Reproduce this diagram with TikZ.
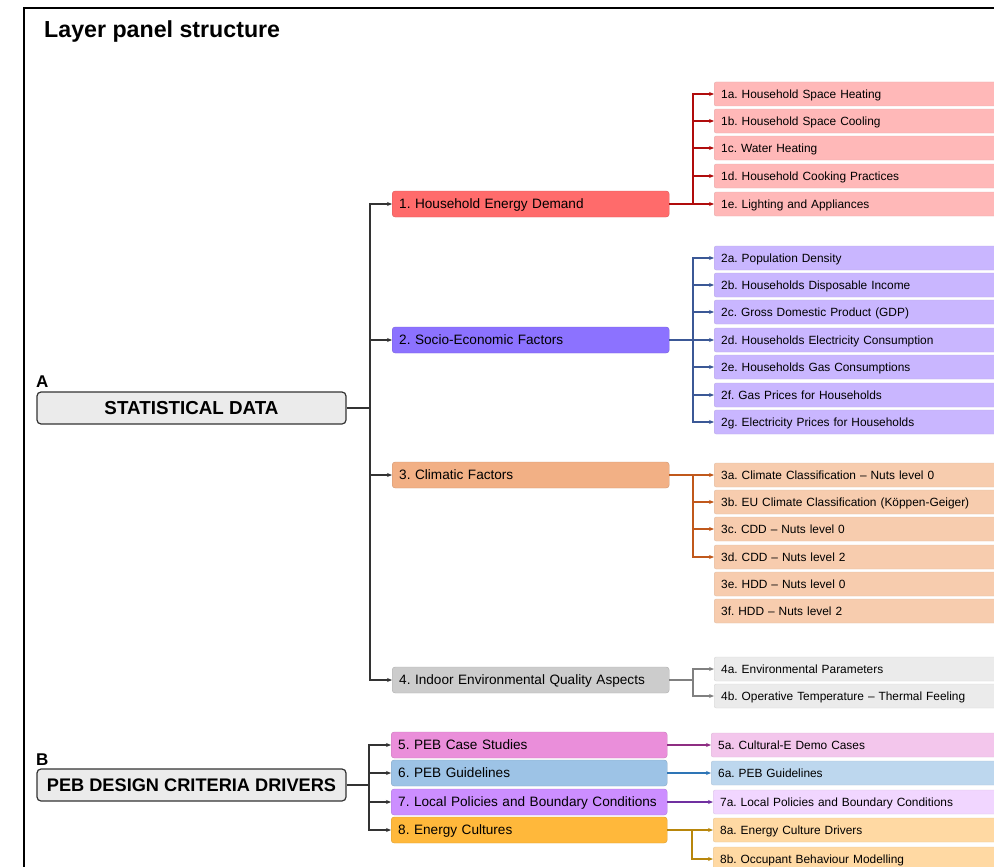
\documentclass[tikz,border=0pt]{standalone}
\usepackage{fontspec}
\setmainfont{Liberation Sans}
\usetikzlibrary{arrows.meta}
\frenchspacing
\definecolor{fA}{HTML}{FF6B6B}\definecolor{cA}{HTML}{FFB8B8}\definecolor{lA}{HTML}{B00C0C}
\definecolor{fB}{HTML}{8C72FF}\definecolor{cB}{HTML}{C9B6FF}\definecolor{lB}{HTML}{3B5896}
\definecolor{fC}{HTML}{F2B085}\definecolor{cC}{HTML}{F7CCAE}\definecolor{lC}{HTML}{C0581B}
\definecolor{fD}{HTML}{CCCCCC}\definecolor{cD}{HTML}{EBEBEB}\definecolor{lD}{HTML}{808080}
\definecolor{fE}{HTML}{EA8EDA}\definecolor{cE}{HTML}{F3C6EC}\definecolor{lE}{HTML}{8E2E82}
\definecolor{fF}{HTML}{9DC3E6}\definecolor{cF}{HTML}{BDD7EE}\definecolor{lF}{HTML}{2E75B6}
\definecolor{fG}{HTML}{CC8EFF}\definecolor{cG}{HTML}{F1D6FF}\definecolor{lG}{HTML}{7030A0}
\definecolor{fH}{HTML}{FFB83B}\definecolor{cH}{HTML}{FFD9A3}\definecolor{lH}{HTML}{B8860B}
\definecolor{rootfill}{HTML}{EBEBEB}\definecolor{dark}{HTML}{333333}
\begin{document}
\begin{tikzpicture}[x=1pt,y=-1pt,
  rootbox/.style={draw=dark, line width=1.2pt, fill=rootfill, rounded corners=4pt,
    minimum width=309pt, minimum height=32pt, inner sep=0pt, text height=13pt, text depth=0pt,
    font=\bfseries\fontsize{18.8}{21}\selectfont},
  lvone/.style={rounded corners=3pt, minimum height=26pt, text width=269pt, inner xsep=4pt,
    inner ysep=0pt, align=left, anchor=west, text height=10pt, text depth=0.3pt,
    font=\fontsize{13.6}{16}\selectfont, execute at begin node={\hspace*{3pt}}},
  lvtwo/.style={rounded corners=2pt, minimum height=24pt, text width=290pt, inner xsep=7pt,
    inner ysep=0pt, align=left, anchor=west, text height=8.6pt, text depth=0.3pt,
    font=\fontsize{11.9}{14}\selectfont},
  conn/.style={line width=1.3pt},
  tip/.style={-{Stealth[length=5pt,width=4pt]}},
  lbl/.style={anchor=base west, font=\bfseries\fontsize{17}{20}\selectfont, inner sep=0pt}
]
\useasboundingbox (0,0) rectangle (994,867);
\clip (0,0) rectangle (994,867);
\draw[line width=1.8pt] (24,880) -- (24,8) -- (1010,8);
\node[anchor=base west, inner sep=0pt, font=\bfseries\fontsize{23.2}{26}\selectfont] (title) at (44,38) {Layer panel structure};

% ---------- A ----------
\node[lbl] (labA) at (36,387) {A};
\node[rootbox] (A) at (191.5,408) {STATISTICAL DATA};
\node[lvone, fill=fA, draw=fA!85!black, line width=0.4pt] (n1) at (392,204) {1. Household Energy Demand};
\node[lvone, fill=fB, draw=fB!85!black, line width=0.4pt] (n2) at (392,340) {2. Socio-Economic Factors};
\node[lvone, fill=fC, draw=fC!85!black, line width=0.4pt] (n3) at (392,475) {3. Climatic Factors};
\node[lvone, fill=fD, draw=fD!85!black, line width=0.4pt] (n4) at (392,680) {4. Indoor Environmental Quality Aspects};

\coordinate (jA) at (370,408);
\draw[conn, dark] (A.east) -- (jA);
\foreach \n in {n1,n2,n3,n4} \draw[conn, dark, tip] (jA) |- (\n.west);

% children 1
\foreach \id/\y/\t in {1a/94/{1a. Household Space Heating},1b/121/{1b. Household Space Cooling},1c/148/{1c. Water Heating},1d/176/{1d. Household Cooking Practices},1e/204/{1e. Lighting and Appliances}}
  \node[lvtwo, fill=cA, draw=cA!80!gray, line width=0.4pt] (c\id) at (714,\y) {\t};
\coordinate (j1) at (693,204);
\draw[conn, lA] (n1.east) -- (j1);
\foreach \id in {1a,1b,1c,1d,1e} \draw[conn, lA, tip] (j1) |- (c\id.west);

% children 2
\foreach \id/\y/\t in {2a/258/{2a. Population Density},2b/285/{2b. Households Disposable Income},2c/312/{2c. Gross Domestic Product (GDP)},2d/340/{2d. Households Electricity Consumption},2e/367/{2e. Households Gas Consumptions},2f/395/{2f. Gas Prices for Households},2g/422/{2g. Electricity Prices for Households}}
  \node[lvtwo, fill=cB, draw=cB!80!gray, line width=0.4pt] (c\id) at (714,\y) {\t};
\coordinate (j2) at (693,340);
\draw[conn, lB] (n2.east) -- (j2);
\foreach \id in {2a,2b,2c,2d,2e,2f,2g} \draw[conn, lB, tip] (j2) |- (c\id.west);

% children 3
\foreach \id/\y/\t in {3a/475/{3a. Climate Classification -- Nuts level 0},3b/502/{3b. EU Climate Classification (Köppen-Geiger)},3c/529/{3c. CDD -- Nuts level 0},3d/557/{3d. CDD -- Nuts level 2},3e/584/{3e. HDD -- Nuts level 0},3f/611/{3f. HDD -- Nuts level 2}}
  \node[lvtwo, fill=cC, draw=cC!80!gray, line width=0.4pt] (c\id) at (714,\y) {\t};
\coordinate (j3) at (693,475);
\draw[conn, lC] (n3.east) -- (j3);
\foreach \id in {3a,3b,3c,3d} \draw[conn, lC, tip] (j3) |- (c\id.west);

% children 4
\foreach \id/\y/\t in {4a/669/{4a. Environmental Parameters},4b/696/{4b. Operative Temperature -- Thermal Feeling}}
  \node[lvtwo, fill=cD, draw=cD!80!gray, line width=0.4pt] (c\id) at (714,\y) {\t};
\coordinate (j4) at (693,680);
\draw[conn, lD] (n4.east) -- (j4);
\foreach \id in {4a,4b} \draw[conn, lD, tip] (j4) |- (c\id.west);

% ---------- B ----------
\node[lbl] (labB) at (36,765) {B};
\node[rootbox, font=\bfseries\fontsize{18.2}{21}\selectfont] (B) at (191.5,785) {PEB DESIGN CRITERIA DRIVERS};
\node[lvone, fill=fE, draw=fE!85!black, line width=0.4pt, text width=268pt] (n5) at (391,745) {5. PEB Case Studies};
\node[lvone, fill=fF, draw=fF!85!black, line width=0.4pt, text width=268pt] (n6) at (391,773) {6. PEB Guidelines};
\node[lvone, fill=fG, draw=fG!85!black, line width=0.4pt, text width=268pt] (n7) at (391,802) {7. Local Policies and Boundary Conditions};
\node[lvone, fill=fH, draw=fH!85!black, line width=0.4pt, text width=268pt] (n8) at (391,830) {8. Energy Cultures};

\coordinate (jB) at (369,785);
\draw[conn, dark] (B.east) -- (jB);
\foreach \n in {n5,n6,n7,n8} \draw[conn, dark, tip] (jB) |- (\n.west);

\node[lvtwo, fill=cE, draw=cE!80!gray, line width=0.4pt] (c5a) at (711,745) {5a. Cultural-E Demo Cases};
\node[lvtwo, fill=cF, draw=cF!80!gray, line width=0.4pt] (c6a) at (711,773) {6a. PEB Guidelines};
\node[lvtwo, fill=cG, draw=cG!80!gray, line width=0.4pt] (c7a) at (713,802) {7a. Local Policies and Boundary Conditions};
\node[lvtwo, fill=cH, draw=cH!80!gray, line width=0.4pt] (c8a) at (713,830) {8a. Energy Culture Drivers};
\node[lvtwo, fill=cH, draw=cH!80!gray, line width=0.4pt] (c8b) at (713,859) {8b. Occupant Behaviour Modelling};

\draw[conn, lE, tip] (n5.east) -- (c5a.west);
\draw[conn, lF, tip] (n6.east) -- (c6a.west);
\draw[conn, lG, tip] (n7.east) -- (c7a.west);
\coordinate (j8) at (692,830);
\draw[conn, lH, line width=1.8pt] (n8.east) -- (j8);
\foreach \id in {8a,8b} \draw[conn, lH, tip] (j8) |- (c\id.west);
\end{tikzpicture}
\end{document}
